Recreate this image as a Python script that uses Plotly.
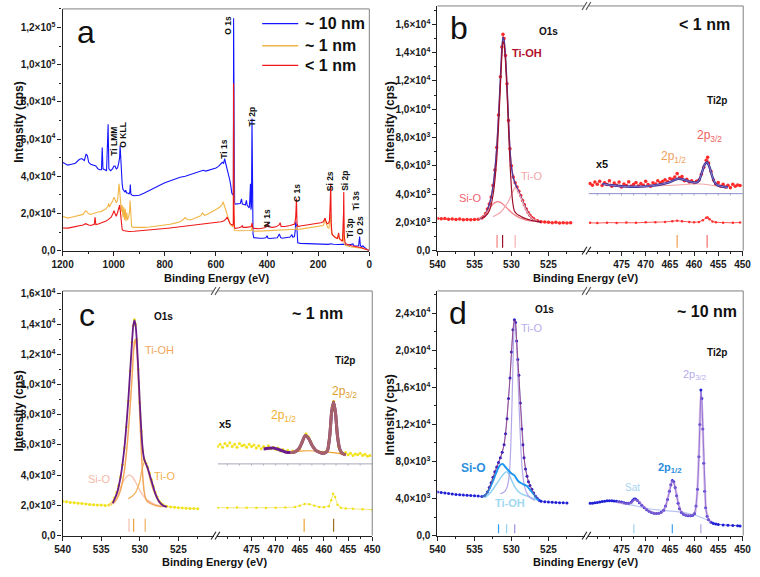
import math
import plotly.graph_objects as go

W, H = 760, 577
FONT = "Liberation Sans"

# ---------------- data (binding energy eV, intensity in kcps) ----------------
A_NAMES = ["~ 10 nm", "~ 1 nm", "< 1 nm"]
A_BLUE = [(1200,47.5),(1190,46.5),(1180,46.0),(1165,46.5),(1150,47.0),(1135,49.0),(1125,49.5),(1115,48.5),(1108,52.0),
          (1103,51.0),(1098,47.5),(1090,46.5),(1080,46.0),(1075,45.5),(1070,45.5),(1062,44.0),(1055,43.5),(1048,43.5),
          (1045,55.5),(1042,44.0),(1035,43.5),(1028,43.0),(1022,68.0),(1019,44.0),(1012,43.0),(1005,44.0),(999,45.5),
          (995,45.5),(990,44.0),(985,44.5),(980,47.5),(977,50.0),(975,56.5),(973,49.0),(970,42.0),(967,36.0),(964,33.0),
          (960,32.0),(956,31.5),(953,32.5),(950,31.0),(945,31.0),(940,30.5),(937,31.5),(935,35.5),(933,30.5),(928,29.8),
          (920,29.5),(900,29.8),(880,31.0),(860,32.5),(840,34.0),(820,35.2),(800,36.5),(780,37.5),(760,38.5),(740,39.5),
          (720,40.0),(700,40.8),(680,41.8),(660,42.5),(650,43.2),(640,42.8),(620,43.5),(600,44.5),(590,45.3),(580,46.5),
          (575,47.5),(570,47.0),(566,49.5),(562,47.0),(558,45.0),(554,43.0),(550,41.0),(546,38.0),(542,35.0),(538,31.0),
          (534,30.0),(532,30.5),(531,125.0),(530,40.0),(529,27.0),(527,25.5),(524,25.0),(515,25.0),(505,25.3),(500,27.8),
          (497,25.0),(490,24.8),(485,24.5),(481,27.0),(478,24.5),(473,23.5),(470,23.0),(468,26.0),(465,36.0),(463,22.0),
          (461,24.0),(459,71.0),(457,15.0),(455,9.0),(452,7.0),(445,6.8),(430,6.7),(415,6.7),(405,6.9),(400,8.0),(397,6.8),
          (390,6.5),(375,6.6),(360,6.9),(352,9.0),(347,7.0),(340,6.7),(325,6.9),(310,7.3),(303,8.5),(299,7.2),(293,7.5),
          (290,10.5),(288,15.5),(286,12.0),(284,14.0),(282,6.0),(280,4.2),(270,3.9),(250,3.8),(230,3.7),(200,3.6),
          (180,3.5),(160,3.4),(150,3.7),(140,3.4),(120,3.3),(100,3.6),(95,3.5),(90,2.8),(80,3.0),(70,3.3),(64,3.6),
          (60,2.6),(50,2.4),(42,2.5),(38,7.6),(35,2.8),(30,2.0),(25,2.6),(20,1.8),(15,1.2),(10,0.6),(5,0.3),(0,0.1)]
A_ORANGE = [(1200,18.5),(1190,17.8),(1180,17.5),(1165,18.0),(1150,18.5),(1135,19.0),(1120,19.5),(1110,21.5),(1105,21.0),
            (1098,19.8),(1090,19.5),(1080,20.0),(1070,20.5),(1060,20.8),(1050,21.0),(1040,21.8),(1030,22.5),(1022,24.0),
            (1020,25.5),(1017,23.5),(1010,25.0),(1005,26.5),(999,28.8),(995,27.5),(990,25.8),(985,27.0),(982,31.0),
            (979,36.0),(976,31.0),(973,26.0),(970,21.0),(967,24.5),(964,18.0),(961,23.5),(958,16.5),(955,22.5),(952,16.0),
            (949,20.5),(946,16.5),(942,18.0),(938,21.0),(936,27.0),(933,17.0),(930,13.0),(925,12.5),(900,12.3),(880,12.5),
            (860,12.7),(840,13.0),(820,13.3),(800,13.7),(780,14.2),(760,14.8),(740,15.5),(730,16.5),(720,17.8),(712,16.7),
            (700,16.5),(690,17.0),(680,17.5),(670,18.0),(660,18.7),(652,20.3),(645,19.0),(635,19.5),(620,20.5),(605,21.5),
            (595,22.5),(585,23.5),(577,24.5),(572,26.3),(568,24.5),(563,22.0),(558,20.5),(552,18.0),(546,15.0),(540,13.5),
            (535,13.0),(532,13.5),(531,85.0),(530,20.0),(528,11.0),(524,10.8),(510,10.7),(495,10.6),(480,10.7),(470,10.8),
            (462,11.0),(459,12.5),(456,10.7),(450,10.5),(430,10.5),(410,10.6),(400,10.9),(380,10.7),(350,11.0),(330,11.0),
            (300,11.2),(288,11.5),(285,13.0),(282,11.3),(270,11.6),(250,12.0),(230,12.3),(210,12.6),(190,13.0),(180,13.5),
            (173,16.5),(168,14.0),(163,12.5),(158,12.0),(155,15.0),(152,20.0),(149,11.0),(145,8.5),(135,7.5),(125,6.5),
            (120,7.5),(115,6.0),(108,5.5),(103,5.5),(101,13.0),(99,4.0),(95,3.0),(85,2.4),(75,2.1),(60,1.8),(50,1.7),
            (40,1.5),(30,1.3),(20,1.0),(10,0.6),(0,0.2)]
A_RED = [(1200,12.2),(1190,12.0),(1180,12.1),(1165,12.5),(1150,12.8),(1135,13.3),(1120,13.8),(1110,14.5),(1105,14.0),
         (1098,13.8),(1090,13.5),(1080,13.8),(1076,14.2),(1073,18.0),(1070,14.0),(1060,14.3),(1050,14.8),(1040,15.3),
         (1030,16.0),(1020,16.8),(1010,18.0),(1003,20.0),(999,21.5),(995,20.0),(990,18.5),(985,20.5),(980,23.5),
         (977,24.5),(974,21.0),(970,15.0),(967,11.5),(963,10.8),(955,10.5),(940,10.3),(920,10.4),(900,10.6),(880,10.8),
         (860,11.0),(840,11.3),(820,11.6),(800,11.9),(780,12.2),(760,12.5),(740,12.8),(720,13.1),(700,13.4),(680,13.7),
         (660,14.0),(640,14.3),(620,14.6),(600,15.0),(580,15.5),(570,16.0),(562,16.8),(556,18.0),(550,16.0),(545,14.5),
         (540,14.0),(535,13.8),(532,14.5),(531,90.0),(530,25.0),(528,12.5),(524,12.0),(510,12.3),(500,12.8),(497,13.5),
         (494,12.5),(480,12.5),(470,12.6),(462,13.0),(459,14.8),(456,12.3),(450,12.0),(430,11.8),(410,12.3),(400,13.0),
         (397,14.6),(394,12.8),(380,12.5),(365,12.8),(352,14.0),(349,15.0),(345,13.0),(330,13.0),(310,13.5),(300,14.0),
         (292,14.3),(288,18.0),(285,28.0),(283,15.0),(280,13.0),(270,13.3),(250,13.7),(230,14.0),(215,14.3),(200,14.6),
         (190,15.0),(180,15.5),(173,17.5),(170,16.0),(165,14.5),(160,14.8),(156,16.0),(153,25.0),(151,36.0),(149,15.0),
         (146,9.0),(140,8.0),(133,7.0),(125,6.5),(120,9.5),(117,6.5),(110,5.5),(105,5.0),(101,20.0),(100,31.5),(98,8.0),
         (95,4.5),(90,3.5),(80,2.9),(70,2.6),(60,2.4),(50,2.2),(40,2.0),(30,1.6),(20,1.0),(10,0.6),(0,0.1)]
A_PEAK_LABELS = ["O 1s", "Ti 2p", "Ti LMM", "O KLL", "Ti 1s", "N 1s", "C 1s", "Si 2s", "Si 2p", "Ti 3s", "Ti 3p", "O 2s"]

# Panel b (< 1 nm)
B_O1S_DATA = [(540,2.28),(539.5,2.25),(539,2.27),(538.5,2.22),(538,2.24),(537.5,2.2),(537,2.23),(536.5,2.19),(536,2.21),
              (535.5,2.18),(535,2.2),(534.5,2.22),(534,2.3),(533.75,2.42),(533.5,2.62),(533.25,2.95),(533,3.3),
              (532.75,3.8),(532.5,4.6),(532.25,5.7),(532,7.3),(531.75,9.6),(531.5,12.3),(531.3,14.4),(531.15,15.3),
              (531,15.0),(530.8,13.8),(530.6,11.8),(530.4,9.2),(530.2,7.2),(530,6.0),(529.75,5.2),(529.5,4.8),
              (529.25,4.5),(529,4.2),(528.75,3.9),(528.5,3.55),(528.25,3.25),(528,2.95),(527.75,2.7),(527.5,2.5),
              (527.25,2.35),(527,2.25),(526.5,2.12),(526,2.05),(525.5,2.02),(525,2.0),(524.5,1.98),(524,2.0),
              (523.5,1.96),(523,1.98),(522.5,1.95),(522,1.97)]
B_O1S_ENV = [(534.5,2.25),(534,2.3),(533.5,2.6),(533,3.25),(532.5,4.5),(532,7.2),(531.75,9.5),(531.5,12.2),(531.3,14.3),
             (531.15,15.1),(531,14.9),(530.8,13.7),(530.6,11.7),(530.4,9.2),(530.2,7.1),(530,5.9),(529.75,5.15),
             (529.5,4.75),(529.25,4.45),(529,4.15),(528.5,3.5),(528,2.9),(527.5,2.45),(527,2.2),(526.5,2.08),(526,2.02)]
B_TIOH = [(534,2.3),(533.5,2.45),(533,2.8),(532.5,3.9),(532,6.4),(531.75,8.8),(531.5,11.6),(531.3,13.8),(531.15,14.8),
          (531,14.6),(530.8,13.3),(530.6,11.2),(530.4,8.6),(530.2,6.2),(530,4.4),(529.8,3.3),(529.6,2.8),(529.3,2.6),
          (529,2.5),(528.5,2.35),(528,2.25),(527,2.1),(526,2.02)]
B_SIO = [(534.5,2.25),(534,2.35),(533.5,2.6),(533,2.95),(532.5,3.3),(532,3.45),(531.7,3.45),(531.3,3.35),(531,3.2),
         (530.5,2.95),(530,2.7),(529.5,2.5),(529,2.35),(528.5,2.25),(528,2.15),(527,2.08)]
B_TIO = [(532.5,2.4),(531.5,2.7),(531,3.0),(530.5,3.4),(530,3.95),(529.7,4.3),(529.5,4.45),(529.3,4.35),(529,4.05),
         (528.5,3.45),(528,2.85),(527.5,2.45),(527,2.2),(526.5,2.1)]
B_TI2P_DATA = [(481.5,1.97),(480,1.95),(478,1.98),(476,1.96),(474,1.99),(472,1.97),(470,2.0),(468,2.0),(466,2.03),
               (464.5,2.08),(463.5,2.12),(462.5,2.08),(461,2.02),(460,2.0),(459,2.03),(458.2,2.15),(457.5,2.32),
               (457.2,2.35),(456.8,2.22),(456.2,2.06),(455.5,2.0),(454,1.98),(452,1.97),(450.5,1.99)]
B_X5_DATA = [(481.5,4.75),(481,4.62),(480.5,4.85),(480,4.7),(479.5,4.9),(479,4.6),(478.5,4.8),(478,4.68),(477.5,4.95),
             (477,4.55),(476.5,4.78),(476,4.62),(475.5,4.85),(475,4.5),(474.5,4.72),(474,4.6),(473.5,4.88),(473,4.55),
             (472.5,4.7),(472,4.82),(471.5,4.58),(471,4.75),(470.5,4.62),(470,4.9),(469.5,4.68),(469,4.55),(468.5,4.8),
             (468,4.72),(467.5,4.95),(467,4.8),(466.5,4.9),(466,5.02),(465.5,4.88),(465,5.1),(464.5,5.05),(464,5.2),
             (463.5,5.45),(463,5.15),(462.5,5.25),(462,4.95),(461.5,5.05),(461,4.85),(460.5,4.95),(460,4.8),(459.5,4.9),
             (459,5.0),(458.5,5.4),(458,5.9),(457.5,6.4),(457.2,6.6),(457,6.2),(456.5,5.6),(456,5.0),(455.5,4.7),
             (455,4.82),(454.5,4.55),(454,4.7),(453.5,4.5),(453,4.62),(452.5,4.45),(452,4.7),(451.5,4.55),(451,4.65),
             (450.5,4.6)]
B_X5_ENV = [(479,4.72),(477,4.62),(475,4.55),(473,4.52),(471,4.53),(469,4.58),(467,4.68),(465,4.85),(464,5.0),
            (463.3,5.08),(462.5,5.05),(461.5,4.95),(460.5,4.85),(459.6,4.82),(459,4.95),(458.4,5.5),(457.8,6.1),
            (457.3,6.25),(456.8,5.9),(456.2,5.2),(455.6,4.75),(455,4.6),(454,4.52),(453,4.48)]
B_X5_BG = [(469,4.58),(466,4.6),(463,4.65),(460,4.72),(458,4.7),(456,4.6),(454,4.5),(453,4.47)]
B_X5_BASE = 4.03
B_MARK_O1S = [531.95, 531.2, 529.5]
B_MARK_TI = [463.5, 457.3]

# Panel c (~ 1 nm)
C_O1S_DATA = [(540,2.28),(539.5,2.25),(539,2.2),(538.5,2.18),(538,2.15),(537.5,2.12),(537,2.1),(536.5,2.06),(536,2.05),
              (535.5,2.02),(535,2.03),(534.5,2.0),(534,2.02),(533.75,2.1),(533.5,2.25),(533.25,2.5),(533,2.85),
              (532.75,3.3),(532.5,3.9),(532.25,4.7),(532,5.8),(531.75,7.2),(531.5,8.9),(531.25,10.9),(531,12.8),
              (530.85,13.9),(530.7,14.3),(530.55,14.0),(530.4,13.0),(530.2,11.0),(530,8.8),(529.8,6.9),(529.6,5.6),
              (529.4,5.0),(529.2,4.8),(529,4.55),(528.75,4.15),(528.5,3.7),(528.25,3.25),(528,2.85),(527.75,2.55),
              (527.5,2.3),(527.25,2.15),(527,2.05),(526.5,1.95),(526,1.9),(525.5,1.88),(525,1.85),(524.5,1.83),
              (524,1.82),(523.5,1.8),(523,1.8),(522.5,1.78)]
C_O1S_ENV = [(533.5,2.15),(533,2.75),(532.5,3.85),(532,5.8),(531.5,8.9),(531.25,10.9),(531,12.9),(530.85,13.9),
             (530.7,14.25),(530.55,13.95),(530.4,13.0),(530.2,11.0),(530,8.8),(529.8,6.9),(529.6,5.6),(529.4,5.0),
             (529.2,4.75),(529,4.5),(528.5,3.65),(528,2.8),(527.5,2.25),(527,2.0),(526.5,1.9)]
C_TIOH = [(533.5,2.1),(533,2.4),(532.5,3.0),(532,4.3),(531.5,6.8),(531,10.5),(530.8,12.3),(530.6,13.0),(530.4,12.4),
          (530.2,10.5),(530,8.0),(529.8,5.6),(529.6,3.8),(529.4,2.8),(529.2,2.4),(529,2.25),(528.5,2.1),(528,2.0),
          (527.5,1.95),(527,1.92)]
C_SIO = [(534,2.0),(533.5,2.2),(533,2.6),(532.5,3.2),(532,3.7),(531.6,3.95),(531.3,4.0),(530.9,3.85),(530.5,3.5),
         (530,3.0),(529.5,2.6),(529,2.35),(528.5,2.2),(528,2.05),(527,1.95)]
C_TIO = [(531.5,2.45),(531,2.6),(530.5,2.9),(530,3.6),(529.7,4.4),(529.4,4.9),(529.1,4.6),(528.8,4.0),(528.5,3.4),
         (528,2.7),(527.5,2.25),(527,2.0),(526.5,1.92)]
C_TI2P_DATA = [(482,1.85),(480,1.83),(478,1.86),(476,1.84),(474,1.85),(472,1.83),(470,1.85),(468,1.86),(466,1.9),
               (465,1.98),(464,2.1),(463,2.08),(462,1.98),(461,1.9),(460,1.88),(459,1.95),(458.5,2.35),(458.1,2.78),
               (457.7,2.55),(457.2,2.05),(456.5,1.85),(455.5,1.8),(454,1.78),(452,1.75),(450,1.72)]
C_X5_DATA = [(482,5.9),(481.5,6.05),(481,5.85),(480.5,6.1),(480,5.95),(479.5,6.15),(479,5.9),(478.5,6.05),(478,5.85),
             (477.5,6.1),(477,5.95),(476.5,6.0),(476,5.85),(475.5,6.05),(475,5.9),(474.5,6.0),(474,5.8),(473.5,5.95),
             (473,5.75),(472.5,5.9),(472,5.8),(471.5,5.95),(471,5.75),(470.5,5.85),(470,5.7),(469.5,5.8),(469,5.6),
             (468.5,5.7),(468,5.55),(467.5,5.65),(467,5.5),(466.5,5.6),(466,5.55),(465.5,5.65),(465,5.75),(464.5,6.2),
             (464,6.6),(463.7,6.75),(463.2,6.55),(462.7,6.2),(462.2,5.85),(461.5,5.6),(461,5.55),(460.5,5.5),(460,5.45),
             (459.5,5.6),(459,6.2),(458.6,7.4),(458.3,8.5),(458,8.9),(457.7,8.3),(457.4,7.0),(457,5.9),(456.5,5.5),
             (456,5.45),(455.5,5.5),(455,5.35),(454.5,5.45),(454,5.3),(453.5,5.4),(453,5.35),(452.5,5.45),(452,5.3),
             (451.5,5.38),(451,5.25),(450.5,5.3)]
C_X5_ENV = [(472.5,5.73),(471.5,5.78),(470.5,5.8),(469.5,5.72),(468.5,5.6),(467.8,5.52),(467,5.5),(466,5.55),
            (465.2,5.75),(464.5,6.2),(463.9,6.62),(463.2,6.45),(462.5,6.0),(461.7,5.65),(460.8,5.5),(460,5.45),
            (459.3,5.6),(458.8,6.6),(458.4,8.2),(458,8.85),(457.6,8.1),(457.2,6.6),(456.7,5.7),(456.2,5.45),(455.5,5.35)]
C_X5_BG = [(467.5,5.52),(465,5.6),(463,5.62),(461,5.58),(459,5.52),(457,5.45),(455.5,5.35)]
C_X5_BASE = 4.75
C_MARK_O1S = [531.4, 530.8, 529.3]
C_MARK_TI = [464.1, 458.0]

# Panel d (~ 10 nm)
D_O1S_DATA = [(540,4.72),(539.5,4.65),(539,4.6),(538.5,4.55),(538,4.5),(537.5,4.45),(537,4.42),(536.5,4.38),(536,4.35),
              (535.5,4.32),(535,4.3),(534.5,4.28),(534,4.22),(533.6,4.3),(533.25,4.7),(533,5.2),(532.75,5.7),
              (532.5,6.3),(532.25,6.9),(532,7.4),(531.75,7.9),(531.5,8.4),(531.25,9.0),(531,9.8),(530.8,11.0),
              (530.6,12.6),(530.4,14.8),(530.2,17.0),(530,19.8),(529.8,22.2),(529.6,23.3),(529.45,23.0),(529.3,21.0),
              (529.15,19.0),(529,17.3),(528.8,14.3),(528.6,11.5),(528.45,9.8),(528.3,8.4),(528.1,7.2),(527.9,6.4),
              (527.7,5.8),(527.5,5.4),(527.25,5.0),(527,4.6),(526.75,4.25),(526.5,4.0),(526.25,3.82),(526,3.72),
              (525.5,3.65),(525,3.62),(524.5,3.6),(524,3.58),(523.5,3.55),(523,3.55),(522.5,3.52)]
D_SIO = [(534,4.15),(533.5,4.4),(533,5.0),(532.5,5.9),(532,6.9),(531.6,7.55),(531.2,7.74),(530.6,7.2),(530,6.7),
         (529.6,6.5),(529.2,6.0),(528.8,5.7),(528.3,5.5),(527.9,5.35),(527.5,4.95),(527,4.5),(526.6,4.0),(526.3,3.8)]
D_TIOH = [(533.6,4.1),(533,4.5),(532.5,5.0),(532,5.6),(531.5,6.2),(531,6.7),(530.7,6.9),(530.4,6.7),(530,6.0),
          (529.5,5.2),(529,4.7),(528.5,4.45),(528,4.3),(527.5,4.15),(527,4.0),(526.5,3.85)]
D_TIO = [(531.5,4.5),(531,4.7),(530.6,5.2),(530.3,6.5),(530.1,9.5),(529.9,15.0),(529.7,21.5),(529.6,23.0),(529.45,22.5),
         (529.3,20.5),(529.1,16.5),(528.9,12.5),(528.7,9.0),(528.5,6.8),(528.2,5.2),(527.8,4.4),(527.3,4.0),(526.8,3.8)]
D_TI2P_DATA = [(481.5,3.48),(481,3.5),(480.5,3.55),(480,3.58),(479.5,3.62),(479,3.68),(478.5,3.72),(478,3.75),
               (477.5,3.76),(477,3.75),(476.5,3.73),(476,3.7),(475.5,3.66),(475,3.62),(474.5,3.56),(474,3.5),(473.5,3.5),
               (473,3.6),(472.7,3.78),(472.4,3.95),(472.1,3.95),(471.7,3.8),(471.3,3.55),(470.8,3.28),(470.3,3.02),
               (469.8,2.8),(469.3,2.62),(468.8,2.5),(468.3,2.42),(467.8,2.4),(467.3,2.42),(466.8,2.52),(466.3,2.75),
               (465.9,3.2),(465.5,3.9),(465.1,4.8),(464.8,5.5),(464.5,5.95),(464.2,5.8),(463.9,5.2),(463.6,4.3),
               (463.3,3.5),(463,2.9),(462.6,2.5),(462.2,2.3),(461.7,2.2),(461.2,2.15),(460.7,2.15),(460.3,2.2),
               (459.9,2.4),(459.6,3.2),(459.3,5.0),(459,8.5),(458.8,12.0),(458.6,15.7),(458.4,14.8),(458.2,11.5),
               (458,7.8),(457.8,4.8),(457.6,3.0),(457.3,2.1),(457,1.7),(456.5,1.45),(456,1.32),(455.5,1.25),(455,1.2),
               (454,1.15),(453,1.12),(452,1.1),(451,1.07),(450.5,1.05)]
D_TI2P_ENV = [(476,3.65),(474,3.45),(473,3.55),(472.3,3.88),(471.5,3.7),(470.5,3.15),(469.5,2.7),(468.5,2.45),
              (467.5,2.4),(466.5,2.6),(465.8,3.3),(465.2,4.6),(464.6,5.85),(464.2,5.75),(463.8,5.0),(463.2,3.4),
              (462.5,2.45),(461.5,2.2),(460.5,2.18),(459.8,2.5),(459.3,5.0),(458.9,10.5),(458.6,15.5),(458.3,13.2),
              (457.9,6.5),(457.5,2.7),(457,1.75),(456.5,1.45)]
D_TI2P_BG = [(474.5,3.43),(472,3.2),(470,2.95),(468,2.8),(466.3,2.7),(464,2.62),(462.3,2.5),(460.5,2.3),(459.7,2.2),
             (458.5,1.95),(457,1.65),(456,1.4)]
D_MARK_O1S = [531.75, 530.66, 529.56]
D_MARK_TI = [472.45, 464.5, 458.6]

# ---------------- helpers ----------------
fig = go.Figure()


def unzip(pairs, k=1000.0):
    return [p[0] for p in pairs], [p[1] * k for p in pairs]


def line(pairs, xa, ya, color, width=1.2, opacity=1.0):
    x, y = unzip(pairs)
    fig.add_trace(go.Scatter(x=x, y=y, mode="lines", xaxis=xa, yaxis=ya, opacity=opacity,
                             line=dict(color=color, width=width, shape="spline", smoothing=0.6),
                             showlegend=False, hoverinfo="skip"))


def dots(pairs, xa, ya, color, lcolor, size=3.5, lw=0.8):
    x, y = unzip(pairs)
    fig.add_trace(go.Scatter(x=x, y=y, mode="lines+markers", xaxis=xa, yaxis=ya,
                             line=dict(color=lcolor, width=lw), marker=dict(color=color, size=size),
                             showlegend=False, hoverinfo="skip"))


def marks(positions, colors, xa, ya, lo, hi, width=1.2):
    for p, c in zip(positions, colors):
        fig.add_trace(go.Scatter(x=[p, p], y=[lo, hi], mode="lines", xaxis=xa, yaxis=ya,
                                 line=dict(color=c, width=width), showlegend=False, hoverinfo="skip"))


def baseline(level, xa, ya, color, x0, x1, ticks, tick_len):
    fig.add_trace(go.Scatter(x=[x0, x1], y=[level * 1000, level * 1000], mode="lines", xaxis=xa, yaxis=ya,
                             line=dict(color=color, width=1), showlegend=False, hoverinfo="skip"))
    tx, ty = [], []
    for t in ticks:
        tx += [t, t, None]
        ty += [level * 1000, level * 1000 - tick_len, None]
    fig.add_trace(go.Scatter(x=tx, y=ty, mode="lines", xaxis=xa, yaxis=ya,
                             line=dict(color=color, width=0.8), showlegend=False, hoverinfo="skip"))


C_BLUE, C_ORANGE, C_RED = "#1414ff", "#f2b545", "#f01818"

# ---------------- panel a ----------------
for pairs, col in [(A_BLUE, C_BLUE), (A_ORANGE, C_ORANGE), (A_RED, C_RED)]:
    x, y = unzip(pairs)
    fig.add_trace(go.Scatter(x=x, y=y, mode="lines", xaxis="x", yaxis="y", line=dict(color=col, width=1.1),
                             showlegend=False, hoverinfo="skip"))

# ---------------- panel b ----------------
dots(B_O1S_DATA, "x2", "y2", "#ff2a2a", "#ff4040")
line(B_O1S_ENV, "x2", "y2", "#4b3c9e", 1.4)
line(B_SIO, "x2", "y2", "#f07a80", 1.2)
line(B_TIO, "x2", "y2", "#f5a8ae", 1.2)
line(B_TIOH, "x2", "y2", "#9e0f2b", 1.2)
dots(B_TI2P_DATA, "x3", "y2", "#ff3030", "#ff3030", size=2.5)
baseline(B_X5_BASE, "x3", "y2", "#8f8fc8", 481.8, 450, [480 - 2.5 * i for i in range(12)], 130)
dots(B_X5_DATA, "x3", "y2", "#ff2a2a", "#ff5a5a", size=3.5, lw=0.6)
line(B_X5_BG, "x3", "y2", "#f5a0a0", 1.0)
line(B_X5_ENV, "x3", "y2", "#3c2a8c", 2.4)
line(B_X5_ENV, "x3", "y2", "#9a8ee0", 1.0, opacity=0.8)
marks(B_MARK_O1S, ["#f08080", "#9e0f2b", "#f5b0b0"], "x2", "y2", 200, 1100)
marks(B_MARK_TI, ["#f0a050", "#f07070"], "x3", "y2", 200, 1100)

# ---------------- panel c ----------------
dots(C_O1S_DATA, "x4", "y3", "#f2e21b", "#f0e060", size=3)
line(C_SIO, "x4", "y3", "#f7c3b0", 1.3)
line(C_TIO, "x4", "y3", "#f2b562", 1.3)
line(C_TIOH, "x4", "y3", "#f2a65a", 1.5)
line(C_O1S_ENV, "x4", "y3", "#6a1b8a", 1.8)
dots(C_TI2P_DATA, "x5", "y3", "#f2e21b", "#f0e060", size=2.5)
baseline(C_X5_BASE, "x5", "y3", "#a8a8b8", 482, 450, [480 - 2.5 * i for i in range(12)], 120)
dots(C_X5_DATA, "x5", "y3", "#f2e21b", "#f4ea70", size=3, lw=0.6)
line(C_X5_BG, "x5", "y3", "#f0a030", 1.2)
line(C_X5_ENV, "x5", "y3", "#6a1b8a", 3.0)
line([p for p in C_X5_ENV if p[0] <= 467.5], "x5", "y3", "#a5626a", 3.0)
marks(C_MARK_O1S, ["#f5c0b0", "#f0a040", "#f0b060"], "x4", "y3", 260, 1120)
marks(C_MARK_TI, ["#f0a030", "#a07020"], "x5", "y3", 260, 1120)

# ---------------- panel d ----------------
dots(D_O1S_DATA, "x6", "y4", "#1f1fd6", "#6a6ae8", size=3)
line(D_TIOH, "x6", "y4", "#8fd0f2", 1.4)
line(D_TIO, "x6", "y4", "#a898e6", 1.2, opacity=0.85)
line(D_SIO, "x6", "y4", "#1e96f0", 2.0)
line([p for p in D_O1S_DATA if 526.5 <= p[0] <= 534], "x6", "y4", "#9a2a60", 0.9, opacity=0.8)
line(D_TI2P_BG, "x7", "y4", "#b8c4f0", 1.2)
dots(D_TI2P_DATA, "x7", "y4", "#1f1fd6", "#3434dd", size=3)
line(D_TI2P_ENV, "x7", "y4", "#c08ad0", 2.4, opacity=0.55)
marks(D_MARK_O1S, ["#30a0f0", "#90d0f0", "#a090e0"], "x6", "y4", 250, 1240)
marks(D_MARK_TI, ["#a0d0f0", "#40a0f0", "#b0a0e0"], "x7", "y4", 250, 1240)

# ---------------- axes ----------------
TICKFONT = dict(family=FONT, size=10, color="#1a1a1a", weight="bold")


def sci(v):
    if v == 0:
        return "0,0"
    e = int(math.floor(math.log10(v) + 1e-9))
    m = v / 10 ** e
    return f"{m:.1f}".replace(".", ",") + f"×10<sup>{e}</sup>"


def xax(x0, x1, rng, tickvals, minor_dt, anchor):
    return dict(domain=[x0 / W, x1 / W], range=rng, anchor=anchor, tickmode="array", tickvals=tickvals,
                ticktext=[f"{v:g}" for v in tickvals], showline=True, linecolor="#222", linewidth=1.3,
                ticks="outside", ticklen=4, tickwidth=1.2, tickcolor="#222", tickfont=TICKFONT,
                showgrid=False, zeroline=False,
                minor=dict(ticks="outside", ticklen=2.5, tickwidth=1, tickcolor="#222", tickmode="linear",
                           tick0=0, dtick=minor_dt, showgrid=False))


def yax(ytop, ybot, top, tickvals, minor_dt, anchor):
    return dict(domain=[1 - ybot / H, 1 - ytop / H], range=[0, top], anchor=anchor, tickmode="array",
                tickvals=tickvals, ticktext=[sci(v) for v in tickvals], showline=True, linecolor="#222",
                linewidth=1.3, ticks="outside", ticklen=4, tickwidth=1.2, tickcolor="#222", tickfont=TICKFONT,
                showgrid=False, zeroline=False,
                minor=dict(ticks="outside", ticklen=2.5, tickwidth=1, tickcolor="#222", tickmode="linear",
                           tick0=0, dtick=minor_dt, showgrid=False))


L_TICKS = [540, 535, 530, 525]
R_TICKS = [475, 470, 465, 460, 455, 450]
layout_axes = dict(
    xaxis=xax(53, 368, [1200, 0], [1200, 1000, 800, 600, 400, 200, 0], 100, "y"),
    yaxis=yax(5, 251, 1.3e5, [0, 2e4, 4e4, 6e4, 8e4, 1e5, 1.2e5], 1e4, "x"),
    xaxis2=xax(438, 589, [540, 520.13], L_TICKS, 2.5, "y2"),
    xaxis3=xax(593, 752, [481.84, 449.85], R_TICKS, 2.5, "y2"),
    yaxis2=yax(2, 251, 1.73e4, [i * 2000 for i in range(9)], 1000, "x2"),
    xaxis4=xax(53, 208, [540, 520.45], L_TICKS, 2.5, "y3"),
    xaxis5=xax(212, 371, [482.06, 450.0], R_TICKS, 2.5, "y3"),
    yaxis3=yax(292, 541, 1.62e4, [i * 2000 for i in range(9)], 1000, "x4"),
    xaxis6=xax(438, 589, [540, 520.13], L_TICKS, 2.5, "y4"),
    xaxis7=xax(593, 752, [481.84, 449.85], R_TICKS, 2.5, "y4"),
    yaxis4=yax(292, 541, 2.64e4, [i * 4000 for i in range(7)], 2000, "x6"),
)

# ---------------- decorations ----------------
shapes = []
FRAME = "#808080"


def seg(x0, y0, x1, y1, color=FRAME, width=1.0):
    shapes.append(dict(type="line", xref="paper", yref="paper", x0=x0 / W, x1=x1 / W,
                       y0=1 - y0 / H, y1=1 - y1 / H, line=dict(color=color, width=width)))


seg(53, 5, 368, 5)
seg(368, 5, 368, 251)
for (xl, xb1, xb2, xr, yt, yb) in [(438, 589, 593, 752, 2, 251), (53, 208, 212, 371, 292, 541),
                                   (438, 589, 593, 752, 292, 541)]:
    seg(xl, yt, xb1, yt)
    seg(xb2, yt, xr, yt)
    seg(xr, yt, xr, yb)
    for xc in (xb1, xb2):
        seg(xc - 2.5, yb + 4, xc + 2.5, yb - 4, "#222", 1.1)
        seg(xc - 2.5, yt + 4, xc + 2.5, yt - 4, "#555", 1.1)

LEG_Y = [20, 42.5, 62.5]
for yy, col in zip(LEG_Y, [C_BLUE, C_ORANGE, C_RED]):
    seg(258, yy, 295, yy, col, 1.4)

annotations = []


def ann(text, x, y, size=10, color="#111", bold=False, angle=0, xanchor="center", yanchor="middle"):
    annotations.append(dict(text=text, x=x / W, y=1 - y / H, xref="paper", yref="paper", showarrow=False,
                            textangle=angle, xanchor=xanchor, yanchor=yanchor,
                            font=dict(family=FONT, size=size, color=color, weight="bold" if bold else "normal")))


for nm, yy in zip(A_NAMES, LEG_Y):
    ann(nm, 300, yy, 16, "#111", True, xanchor="left")

A_LABEL_POS = [(222, 22), (248, 114), (105, 140), (115, 133), (219, 148), (263, 218), (293, 192), (328, 180),
               (343, 180), (354, 200), (348, 228), (359, 225)]
for t, (x, y) in zip(A_PEAK_LABELS, A_LABEL_POS):
    ann(t, x, y, 8.5, "#111", True, angle=-90)

for (cx, cy) in [(211, 279), (590, 279)]:
    ann("Binding Energy (eV)", cx, cy, 11, "#111", True)
for cx in (209, 590):
    ann("Binding Energy (eV)", cx, 576, 11, "#111", True, yanchor="bottom")
for (cx, cy) in [(8, 120), (389, 120), (8, 414), (389, 418)]:
    ann("Intensity (cps)", cx, cy, 12, "#111", True, angle=-90)

ann("a", 77, 28, 32)
ann("b", 460, 24, 32)
ann("c", 78, 316, 32)
ann("d", 459, 314, 32)

ann("O1s", 552, 28, 10, "#111", True)
ann("< 1 nm", 712, 21, 16, "#111", True)
ann("Ti-OH", 530, 50, 11, "#b0102a", True)
ann("Ti2p", 725, 98, 10, "#111", True)
ann("2p<sub>3/2</sub>", 717, 134, 12, "#f06060")
ann("2p<sub>1/2</sub>", 680, 156, 12, "#f0a060")
ann("x5", 607, 163, 11, "#111", True)
ann("Ti-O", 535, 175, 11, "#f4a4a8")
ann("Si-O", 471, 197, 11, "#f06070")

ann("O1s", 157, 318, 10, "#111", True)
ann("~ 1 nm", 315, 315, 16, "#111", True)
ann("Ti-OH", 152, 352, 11, "#f2a65a")
ann("Ti2p", 343, 363, 10, "#111", True)
ann("2p<sub>3/2</sub>", 343, 395, 12, "#e0a030")
ann("2p<sub>1/2</sub>", 280, 419, 12, "#f0b030")
ann("x5", 220, 427, 11, "#111", True)
ann("Ti-O", 158, 480, 11, "#f2b050")
ann("Si-O", 90, 483, 11, "#f6b8a8")

ann("O1s", 548, 311, 10, "#111", True)
ann("~ 10 nm", 715, 313, 16, "#111", True)
ann("Ti-O", 535, 330, 11, "#b4acec")
ann("Ti2p", 725, 355, 10, "#111", True)
ann("2p<sub>3/2</sub>", 702, 378, 11, "#b4acec")
ann("Si-O", 475, 472, 12, "#2a8ee0", True)
ann("2p<sub>1/2</sub>", 677, 472, 11, "#2a8ee0", True)
ann("Sat", 638, 492, 10, "#a8d4f0")
ann("Ti-OH", 512, 508, 11, "#a0d8f0", True)

fig.update_layout(width=W, height=H, margin=dict(l=0, r=0, t=0, b=0), paper_bgcolor="white",
                  plot_bgcolor="white", showlegend=False, shapes=shapes, annotations=annotations,
                  font=dict(family=FONT), **layout_axes)

fig.write_html("out.html", config={"displayModeBar": False},
               post_script="document.body.style.margin='0px';")
